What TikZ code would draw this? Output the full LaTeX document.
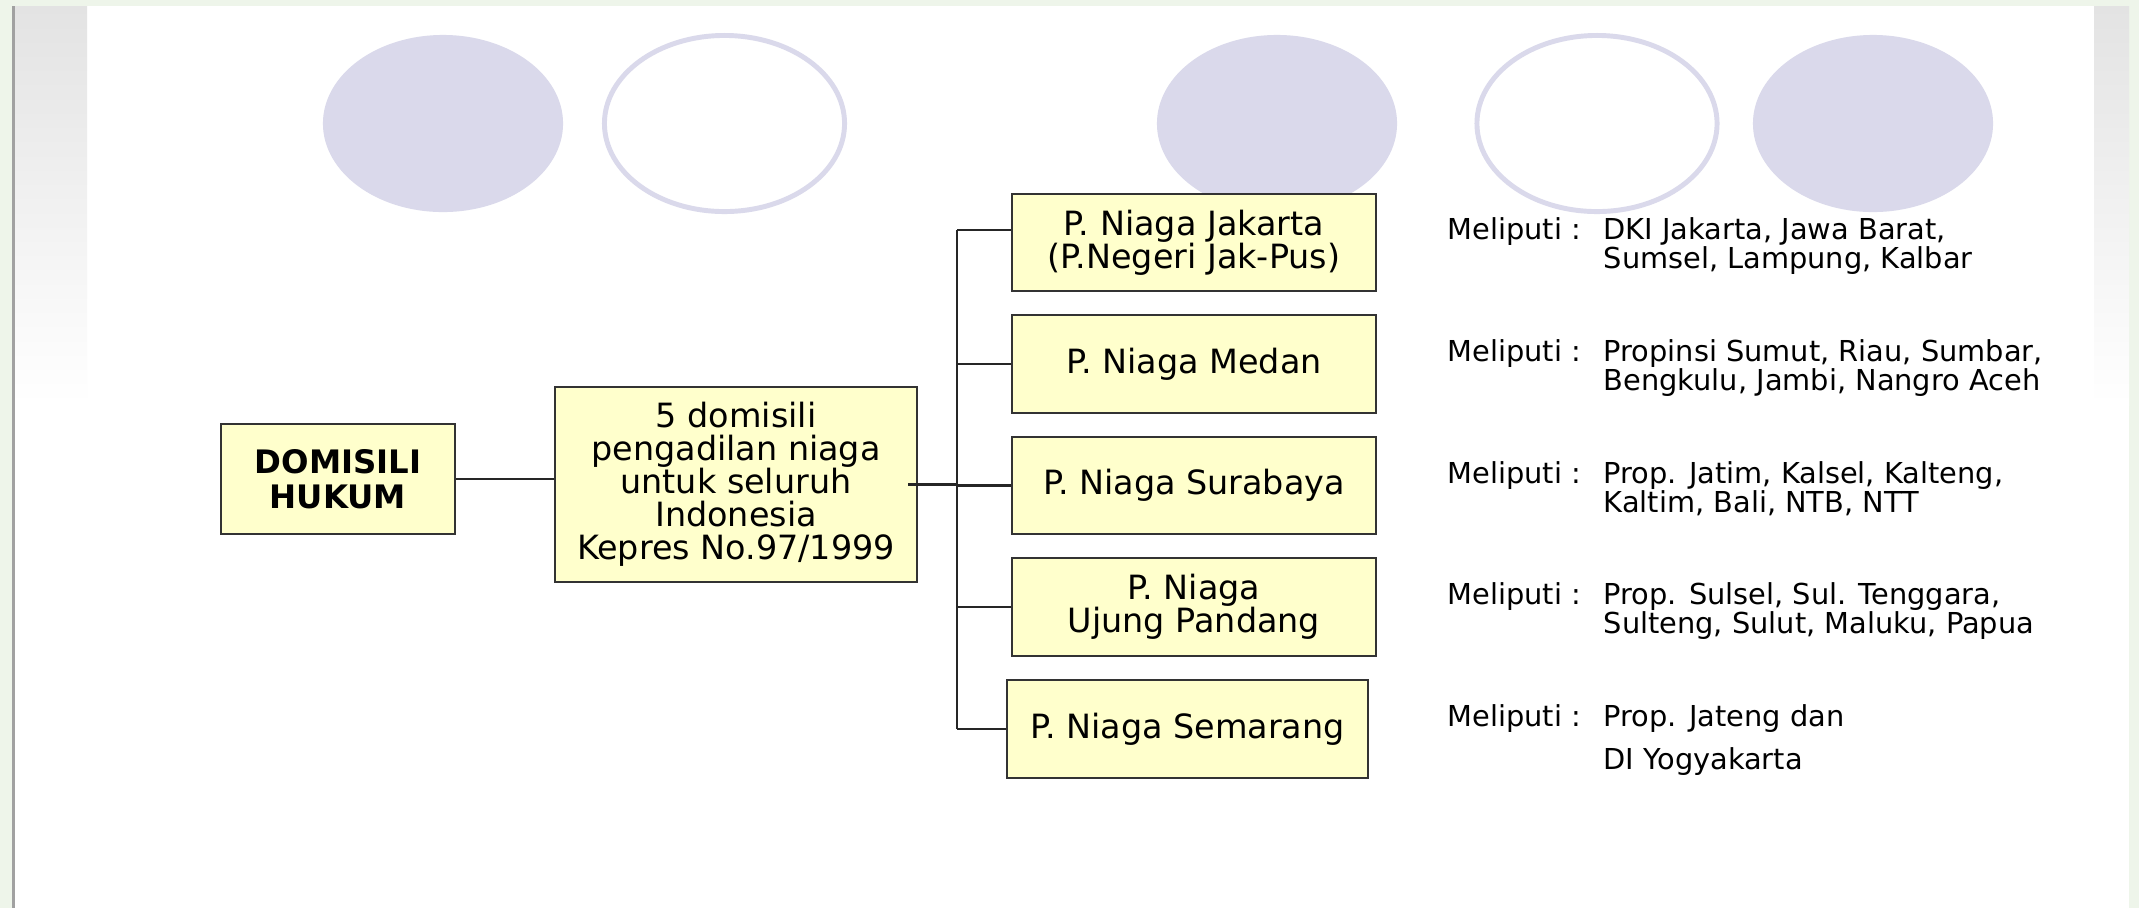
\documentclass[tikz,border=0pt]{standalone}
\usepackage{fontspec}
\setmainfont{DejaVu Sans}
\definecolor{pagegreen}{RGB}{238,245,234}
\definecolor{lavender}{RGB}{218,217,235}
\definecolor{boxyellow}{RGB}{255,255,204}

\begin{document}
\begin{tikzpicture}[x=0.01cm,y=-0.01cm,
  niagabox/.style={draw=black!80,line width=0.7pt,fill=boxyellow,inner sep=0pt,
    align=center,font=\fontsize{9.5}{9.4}\selectfont},
  infotext/.style={anchor=north west,inner sep=0pt,align=left,
    font=\fontsize{8.2}{8.3}\selectfont},
  link/.style={draw=black!85,line width=0.6pt},
  disc/.style={fill=lavender},
  ring/.style={draw=lavender,line width=1.4pt}]

% slide background
\useasboundingbox[fill=pagegreen] (0,0) rectangle (2139,908);
\fill[white] (15,6) rectangle (2129,908);
\fill[black!37] (12,6) rectangle (15,908);
\shade[top color=black!11,bottom color=white] (15,6) rectangle (87,405);
\shade[top color=black!11,bottom color=white] (2094,6) rectangle (2129,405);

\coordinate (E1) at (443,123.5);
\coordinate (E2) at (724.5,123.5);
\coordinate (E3) at (1277,123.5);
\coordinate (E4) at (1597,123.5);
\coordinate (E5) at (1873,123.5);

\fill[disc] (E1) ellipse [x radius=1.2cm,y radius=0.885cm];
\draw[ring] (E2) ellipse [x radius=1.2cm,y radius=0.88cm];
\fill[disc] (E3) ellipse [x radius=1.2cm,y radius=0.885cm];
\draw[ring] (E4) ellipse [x radius=1.2cm,y radius=0.88cm];
\fill[disc] (E5) ellipse [x radius=1.2cm,y radius=0.885cm];

\coordinate (D) at (338,479);
\coordinate (P) at (736,484.5);
\coordinate (J) at (1194,242.5);
\coordinate (M) at (1194,364);
\coordinate (S) at (1194,485.5);
\coordinate (U) at (1194,607);
\coordinate (G) at (1187.5,729);

\node[niagabox,minimum width=2.34cm,minimum height=1.1cm,
  font=\fontsize{9.2}{10}\selectfont\bfseries] (dom) at (D) {DOMISILI\\HUKUM};
\node[niagabox,minimum width=3.62cm,minimum height=1.95cm] (pusat) at (P)
  {5 domisili\\pengadilan niaga\\untuk seluruh\\Indonesia\\Kepres No.97/1999};

\node[niagabox,minimum width=3.64cm,minimum height=0.97cm] (jkt) at (J)
  {P. Niaga Jakarta\\(P.Negeri Jak-Pus)};
\node[niagabox,minimum width=3.64cm,minimum height=0.98cm] (mdn) at (M)
  {P. Niaga Medan};
\node[niagabox,minimum width=3.64cm,minimum height=0.97cm] (sby) at (S)
  {P. Niaga Surabaya};
\node[niagabox,minimum width=3.64cm,minimum height=0.98cm] (upd) at (U)
  {P. Niaga\\Ujung Pandang};
\node[niagabox,minimum width=3.61cm,minimum height=0.98cm] (smg) at (G)
  {P. Niaga Semarang};

% tree lines
\coordinate (T1) at (957,230);
\coordinate (T5) at (957,729);

\draw[link] (dom.east) -- (dom.east -| pusat.west);
\draw[link] ([xshift=-0.1cm]pusat.east) -- (pusat.east -| T1);
\draw[link] (T1) -- (T5);
\draw[link] (T1) -- (T1 -| jkt.west);
\draw[link] (T1 |- mdn.west) -- (mdn.west);
\draw[link] (T1 |- sby.west) -- (sby.west);
\draw[link] (T1 |- upd.west) -- (upd.west);
\draw[link] (T5) -- (smg.west);

% wilayah
\node[infotext] (jkt-m) at (1447,217) {Meliputi :};
\node[infotext] (jkt-info) at (1603,217)
  {DKI Jakarta, Jawa Barat,\\Sumsel, Lampung, Kalbar};
\node[infotext] (mdn-m) at (1447,339) {Meliputi :};
\node[infotext] (mdn-info) at (1603,339)
  {Propinsi Sumut, Riau, Sumbar,\\Bengkulu, Jambi, Nangro Aceh};
\node[infotext] (sby-m) at (1447,461) {Meliputi :};
\node[infotext] (sby-info) at (1603,461)
  {Prop. Jatim, Kalsel, Kalteng,\\Kaltim, Bali, NTB, NTT};
\node[infotext] (upd-m) at (1447,582) {Meliputi :};
\node[infotext] (upd-info) at (1603,582)
  {Prop. Sulsel, Sul. Tenggara,\\Sulteng, Sulut, Maluku, Papua};
\node[infotext] (smg-m) at (1447,704) {Meliputi :};
\node[infotext] (smg-info) at (1603,704)
  {Prop. Jateng dan\\[3.9pt]DI Yogyakarta};

\end{tikzpicture}
\end{document}
